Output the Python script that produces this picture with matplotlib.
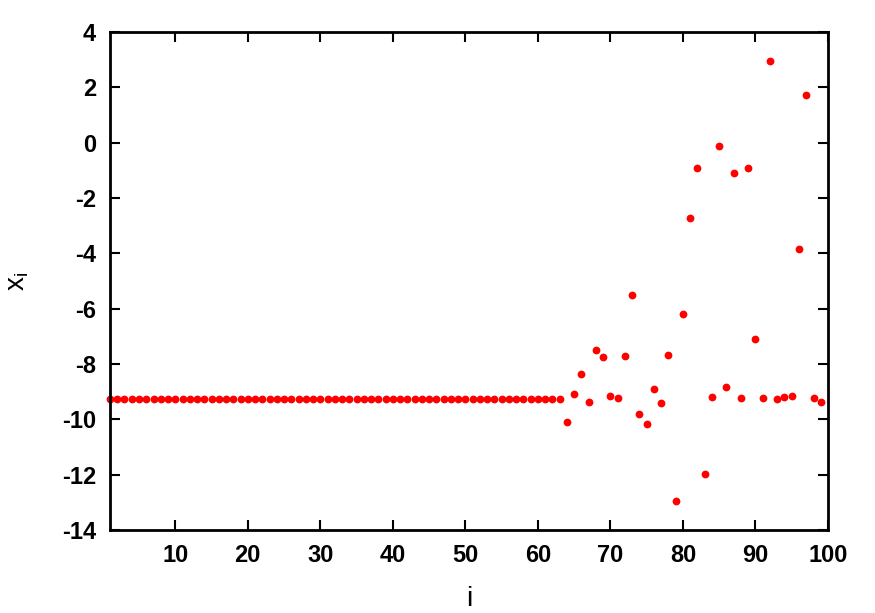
import matplotlib
matplotlib.use("Agg")
import matplotlib.pyplot as plt

# orbit values x_i, i = 1..99 (fixed point up to i=63, then chaotic)
fixed_value = -9.27
n_fixed = 63
tail_values = [-10.08, -9.09, -8.37, -9.36, -7.50, -7.76, -9.14, -9.22, -7.72, -5.49,
               -9.81, -10.17, -8.90, -9.41, -7.68, -12.95, -6.21, -2.72, -0.91, -11.99,
               -9.19, -0.13, -8.82, -1.10, -9.22, -0.91, -7.11, -9.24, 2.96, -9.27,
               -9.18, -9.15, -3.83, 1.71, -9.24, -9.37]

x_vals = [fixed_value] * n_fixed + tail_values
i_vals = list(range(1, len(x_vals) + 1))

x_ticks = [10, 20, 30, 40, 50, 60, 70, 80, 90, 100]
y_ticks = [-14, -12, -10, -8, -6, -4, -2, 0, 2, 4]

plt.rcParams['font.family'] = ['Liberation Sans Narrow', 'Liberation Sans', 'DejaVu Sans']
plt.rcParams['font.weight'] = 'bold'
plt.rcParams['axes.unicode_minus'] = False

fig = plt.figure(figsize=(8.75, 6.13), dpi=100)
ax = fig.add_axes([0.1257, 0.1354, 0.8206, 0.8124])

ax.plot(i_vals, x_vals, 'o', color='#ff0000', markersize=5.6, markeredgewidth=0, clip_on=False)

ax.set_xlim(1, 100)
ax.set_ylim(-14, 4)
ax.set_xticks(x_ticks)
ax.set_yticks(y_ticks)
ax.tick_params(direction='in', length=7, width=1.5, top=True, right=True,
               labelsize=17, pad=10)
for side in ax.spines.values():
    side.set_linewidth(2)

ax.set_xlabel('i', fontsize=20, labelpad=14)
ax.set_ylabel(r'x$_\mathregular{i}$', fontsize=20, labelpad=22)

fig.savefig('out.png', dpi=100)
